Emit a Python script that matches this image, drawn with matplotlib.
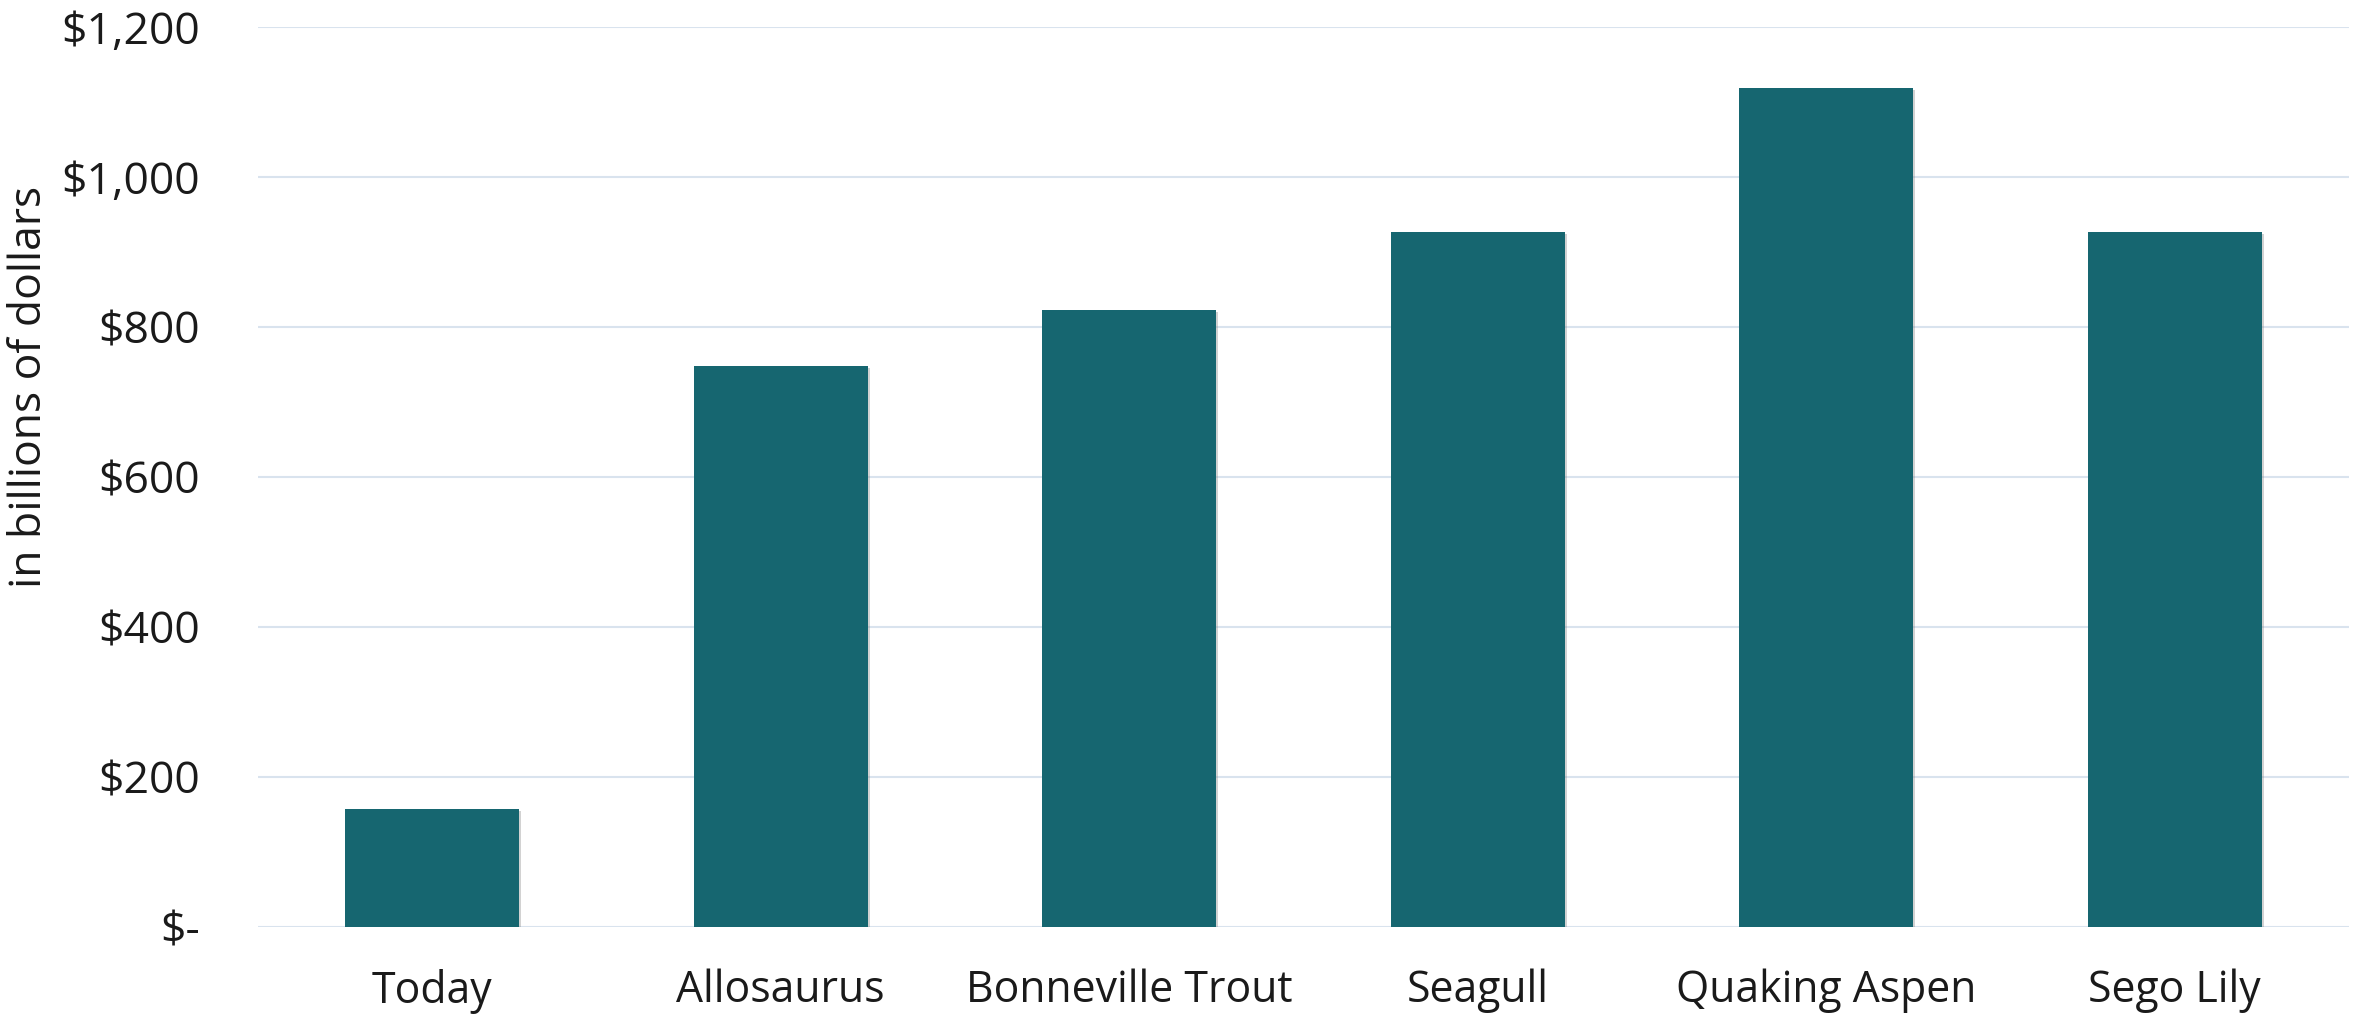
import matplotlib
matplotlib.use("Agg")
import matplotlib.pyplot as plt
import matplotlib.patheffects as pe
from matplotlib.ticker import FuncFormatter, MultipleLocator

categories = ["Today", "Allosaurus", "Bonneville Trout", "Seagull", "Quaking Aspen", "Sego Lily"]
values = [157, 748, 822, 927, 1119, 927]

bar_color = "#166670"
grid_color = "#d9e3ee"
text_color = "#1a1a1a"

plt.rcParams["font.family"] = ["Open Sans", "DejaVu Sans"]
plt.rcParams["font.size"] = 16


def dollar_fmt(v, pos):
    if v == 0:
        return "$-"
    return "${:,.0f}".format(v)


fig = plt.figure(figsize=(11.82, 5.075), dpi=200)
ax = fig.add_axes([0.1091, 0.0867, 0.8845, 0.8867])

x = range(len(categories))
bars = ax.bar(x, values, width=0.5, color=bar_color, zorder=3)
for b in bars:
    b.set_path_effects([
        pe.SimplePatchShadow(offset=(0.7, -0.7), shadow_rgbFace="#808080", alpha=0.35),
        pe.Normal(),
    ])

ax.set_xlim(-0.5, len(categories) - 0.5)
ax.set_ylim(0, 1200)
ax.yaxis.set_major_locator(MultipleLocator(200))
ax.yaxis.set_major_formatter(FuncFormatter(dollar_fmt))
ax.set_xticks(list(x))
ax.set_xticklabels(categories)

ax.grid(axis="y", color=grid_color, linewidth=0.75, zorder=0)
ax.set_axisbelow(True)
for s in ax.spines.values():
    s.set_visible(False)

ax.tick_params(axis="y", length=0, pad=21, colors=text_color, labelsize=16)
ax.tick_params(axis="x", length=0, pad=15, colors=text_color, labelsize=15.4)

# label sits left of the ticks, a bit above the axis middle
ax.set_ylabel("in billions of dollars", color=text_color, fontsize=16)
ax.yaxis.set_label_coords(-0.0985, 0.6)

fig.savefig("out.png", dpi=200, facecolor="white")
